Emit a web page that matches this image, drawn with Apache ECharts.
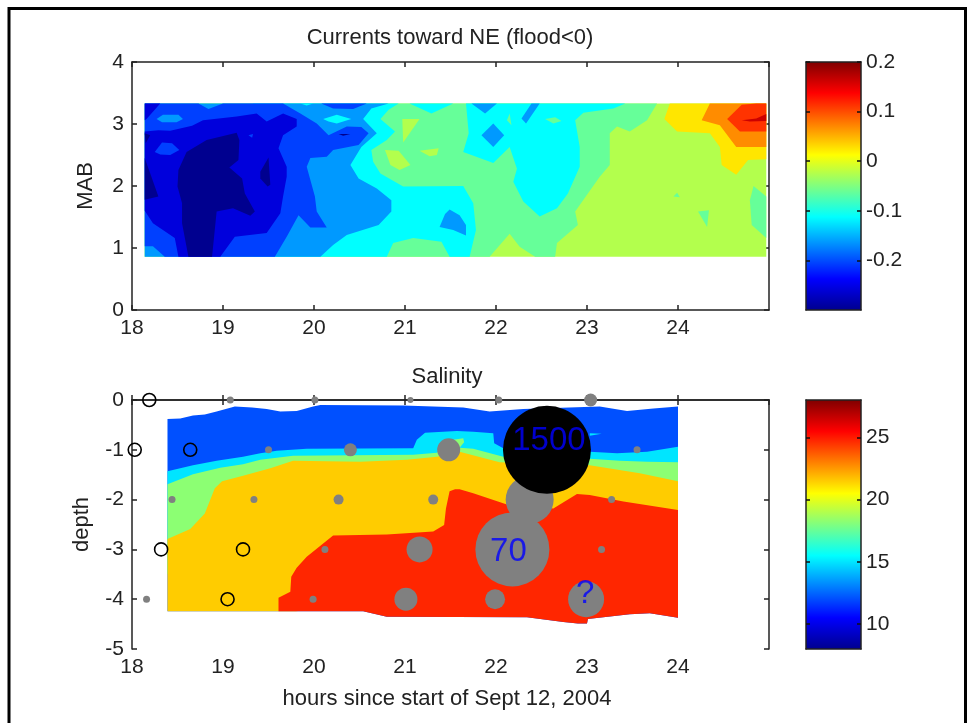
<!DOCTYPE html>
<html>
<head>
<meta charset="utf-8">
<style>html,body{margin:0;padding:0;background:#fff}#c{width:969px;height:723px}</style>
<script src="https://cdn.jsdelivr.net/npm/echarts@6/dist/echarts.min.js"></script>
</head>
<body>
<div id="c"></div>
<script>
// ---- Currents contour bands: [hour, metres above bottom] outlines, painted in order
const curBase = [[18.14,3.33],[24.97,3.33],[24.97,0.86],[18.14,0.86]];
const curGreen = [[18.14,3.33],[23.77,3.33],[23.66,3.06],[23.47,2.88],[23.33,2.96],[23.25,2.85],[23.25,2.34],[23.14,2.15],[22.87,1.59],[22.90,1.37],[22.67,1.08],[22.65,0.86],[22.43,0.86],[22.26,1.02],[22.15,1.23],[21.93,0.86],[18.14,0.86]];
const curLimeIslands = [
  [[20.97,3.08],[21.16,3.08],[20.98,2.70]],
  [[20.78,2.58],[20.93,2.57],[21.06,2.34],[20.94,2.26],[20.84,2.34]],
  [[21.16,2.57],[21.37,2.61],[21.35,2.50],[21.27,2.48]]
];
const curGreenIslands = [
  [[24.83,2.00],[24.97,1.83],[24.97,1.16],[24.81,1.37],[24.79,1.77]],
  [[24.22,1.59],[24.34,1.61],[24.32,1.34]],
  [[23.95,1.83],[23.99,1.89],[24.02,1.82]]
];
const curCyan = [
  [[19.33,3.33],[20.93,3.33],[20.82,3.23],[20.73,3.08],[20.89,2.88],[20.80,2.74],[20.63,2.58],[20.65,2.39],[20.73,2.20],[20.98,1.99],[21.64,2.00],[21.75,1.72],[21.78,1.29],[21.71,0.86],[21.49,0.86],[21.40,1.10],[21.09,1.16],[20.87,1.08],[20.80,0.86],[19.33,0.86]],
  [[21.05,3.33],[21.29,3.17],[21.53,3.33]],
  [[21.67,3.33],[21.70,2.85],[21.64,2.55],[21.97,2.37],[22.15,2.63],[22.23,2.28],[22.19,2.07],[22.30,1.75],[22.48,1.51],[22.67,1.64],[22.79,1.88],[22.92,2.31],[22.92,2.63],[22.87,3.06],[22.96,3.18],[23.29,3.25],[23.42,3.33]]
];
const curGreenInCyan = [
  [[22.15,3.17],[22.17,2.98],[22.12,3.06]],
  [[22.54,3.08],[22.65,3.11],[22.72,3.05],[22.63,3.01]]
];
const curLight = [
  [[18.14,3.33],[20.82,3.33],[20.63,3.25],[20.54,3.08],[20.69,2.85],[20.52,2.63],[20.40,2.34],[20.49,2.12],[20.69,1.96],[20.85,1.77],[20.85,1.59],[20.71,1.37],[20.36,1.21],[20.21,1.05],[20.07,0.86],[18.14,0.86]],
  [[21.73,3.33],[22.01,3.33],[21.88,3.17]],
  [[22.39,3.33],[22.48,3.33],[22.33,3.01],[22.28,3.09]],
  [[21.97,3.01],[22.09,2.82],[21.97,2.63],[21.84,2.82]],
  [[21.38,1.34],[21.44,1.55],[21.49,1.62],[21.60,1.53],[21.67,1.37],[21.67,1.20],[21.53,1.29]]
];
const curCyanSpots = [
  [[19.85,3.33],[19.99,3.33],[19.92,3.30]],
  [[20.10,3.08],[20.25,3.15],[20.41,3.08],[20.25,3.01],[20.16,3.04]]
];
const curBlue = [
  [[18.14,3.33],[18.73,3.33],[18.84,3.24],[19.00,3.33],[19.66,3.33],[19.85,3.17],[20.03,3.01],[20.16,2.82],[20.36,2.96],[20.52,2.95],[20.60,2.85],[20.49,2.66],[20.21,2.58],[20.14,2.47],[19.96,2.45],[19.92,2.31],[20.01,1.83],[20.03,1.59],[20.14,1.33],[19.96,1.33],[19.83,1.53],[19.70,1.18],[19.57,0.86],[18.36,0.86],[18.23,1.03],[18.14,1.03]],
  [[20.08,3.33],[20.58,3.33],[20.43,3.24],[20.21,3.25]]
];
const curLightIsland = [[18.27,3.08],[18.34,3.15],[18.51,3.15],[18.56,3.08],[18.49,3.03],[18.33,3.03]];
const curDark = [
  [[18.14,3.33],[18.31,3.33],[18.16,3.08],[18.14,3.06]],
  [[18.14,2.88],[18.29,2.90],[18.42,2.89],[18.66,2.97],[18.78,3.06],[19.15,3.12],[19.37,3.17],[19.48,3.04],[19.66,3.17],[19.81,3.08],[19.81,2.96],[19.66,2.82],[19.61,2.61],[19.70,2.31],[19.70,2.15],[19.66,1.83],[19.63,1.56],[19.48,1.24],[19.13,1.18],[18.97,0.86],[18.51,0.86],[18.47,1.16],[18.23,1.40],[18.14,1.60]]
];
const curBlueIslands = [
  [[18.25,2.55],[18.33,2.70],[18.44,2.69],[18.52,2.58],[18.42,2.50],[18.31,2.51]],
  [[19.28,2.82],[19.33,2.84],[19.32,2.78]]
];
const curNavy = [
  [[18.51,2.26],[18.60,2.55],[18.82,2.74],[19.15,2.86],[19.18,2.74],[19.17,2.42],[19.07,2.30],[19.21,2.12],[19.24,1.88],[19.35,1.59],[19.30,1.52],[19.11,1.64],[18.93,1.59],[18.88,0.86],[18.62,0.86],[18.55,1.40],[18.55,1.72],[18.50,1.99]],
  [[19.41,2.23],[19.50,2.46],[19.52,2.02],[19.49,1.99],[19.41,2.12]],
  [[18.14,2.45],[18.29,1.83],[18.14,1.78]],
  [[18.14,2.85],[18.20,2.82],[18.15,2.69]],
  [[20.27,2.84],[20.40,2.84],[20.32,2.81]]
];
const curYellow = [[23.91,3.33],[23.85,3.08],[23.99,2.88],[24.35,2.85],[24.46,2.63],[24.48,2.34],[24.64,2.18],[24.77,2.42],[24.97,2.43],[24.97,3.33]];
const curOrange = [[24.35,3.33],[24.26,3.06],[24.46,2.98],[24.64,2.63],[24.97,2.63],[24.97,3.33]];
const curRed = [[24.70,3.31],[24.54,3.08],[24.68,2.88],[24.97,2.88],[24.97,3.33],[24.86,3.33]];
const curDarkRed = [[24.70,3.06],[24.86,3.09],[24.97,3.16],[24.97,3.05],[24.79,3.04]];

// ---- Salinity contour bands: [hour, depth] outlines, painted in order
const salTopEdge = [[18.39,-0.38],[18.53,-0.37],[18.67,-0.31],[18.80,-0.29],[18.93,-0.23],[19.13,-0.13],[19.32,-0.15],[19.48,-0.18],[19.63,-0.23],[19.81,-0.22],[19.99,-0.13],[20.07,-0.10],[20.98,-0.11],[21.64,-0.15],[21.93,-0.23],[22.30,-0.18],[23.14,-0.13],[23.44,-0.22],[23.73,-0.17],[24.00,-0.13]];
const salBottomEdge = [[24.00,-4.37],[23.69,-4.28],[23.47,-4.30],[23.01,-4.40],[23.00,-4.49],[22.90,-4.49],[22.74,-4.46],[22.34,-4.36],[20.80,-4.35],[20.54,-4.24]];
const salCyanTop = [[18.39,-1.43],[18.67,-1.31],[18.93,-1.22],[19.22,-1.14],[19.41,-1.07],[19.59,-1.02],[19.92,-0.98],[21.09,-0.97],[21.13,-0.80],[21.22,-0.66],[21.57,-0.62],[21.75,-0.64],[21.97,-0.67],[21.98,-0.87],[22.08,-0.97],[22.45,-1.04],[23.03,-1.04],[23.33,-1.07],[23.66,-1.04],[24.00,-0.94]];
const salCyanSpur = [[23.03,-0.67],[23.16,-0.68],[23.03,-0.72]];
const salGreenTop = [[18.39,-1.69],[18.67,-1.49],[18.97,-1.36],[19.22,-1.29],[19.41,-1.20],[19.59,-1.16],[19.77,-1.12],[21.09,-1.10],[21.35,-1.06],[21.53,-0.80],[21.64,-0.77],[21.65,-0.85],[21.60,-0.96],[21.75,-0.98],[22.08,-1.14],[23.03,-1.18],[23.36,-1.22],[23.66,-1.24],[24.00,-1.25]];
const salYellowTop = [[18.39,-2.79],[18.64,-2.59],[18.80,-2.28],[18.91,-1.77],[18.99,-1.63],[19.22,-1.52],[19.52,-1.37],[19.77,-1.22],[20.51,-1.24],[21.02,-1.20],[21.35,-1.14],[21.60,-1.04],[22.04,-1.25],[23.03,-1.31],[23.58,-1.47],[24.00,-1.63]];
const salYellowUnder = [[24.00,-3.50],[20.00,-4.20],[19.80,-4.24],[18.39,-4.24]];
const salRedTop = [[19.61,-4.24],[19.61,-3.97],[19.74,-3.85],[19.75,-3.55],[19.81,-3.37],[19.92,-3.15],[20.21,-2.72],[20.80,-2.70],[21.31,-2.64],[21.43,-2.51],[21.45,-2.18],[21.49,-1.83],[21.55,-1.79],[21.60,-1.79],[21.75,-1.87],[22.12,-2.10],[22.63,-2.18],[22.89,-1.89],[23.03,-1.91],[23.40,-2.04],[24.00,-2.21]];

// ---- Bubbles: [hour, depth, size]
const grayBubbles = [
  [19.08,0,7],[20.01,0,7],[21.06,0,6],[22.03,0,7],[23.04,0,13],
  [19.50,-1,7],[20.40,-1,13],[21.48,-1,23],[23.55,-1,7],
  [18.44,-2,7],[19.34,-2,7],[20.27,-2,10],[21.31,-2,10],[22.37,-2,48],[23.27,-2,7],
  [20.12,-3,7],[21.16,-3,26],[22.18,-3,74],[23.16,-3,7],
  [18.16,-4,7],[19.99,-4,7],[21.01,-4,23],[21.99,-4,20],[22.99,-4,36]
];
const blackBubbles = [[22.56,-1,88]];
const openCircles = [[18.19,0,13],[18.03,-1,13],[18.64,-1,13],[18.32,-3,13],[19.22,-3,13],[19.05,-4,13]];
const blobNotes = [["1500",22.56,-1],["70",22.18,-3],["?",22.99,-4]];

// ---- Axes text and colour scales
const hourTicks = ["18","19","20","21","22","23","24"];
const cbarCurrentTicks = [-0.2,-0.1,0,0.1,0.2];
const cbarSalinityTicks = [10,15,20,25];
const jetStops = [[0,"#00008f"],[0.125,"#0000ff"],[0.375,"#00ffff"],[0.625,"#ffff00"],[0.875,"#ff0000"],[1,"#800000"]];

const INK = "#222222", FONT = "Liberation Sans", TICK = 21, TXT = 22;
const C = {navy:"#00008f",dark:"#0000dc",blue:"#0040ff",light:"#0099ff",cyan:"#00ffff",green:"#66ff99",lime:"#b3ff4d",yellow:"#ffe600",orange:"#ff8c00",red:"#ff3300",dred:"#cc0000",
           sBlue:"#0050ff",sCyan:"#00e5ff",sGreen:"#8cff73",sYellow:"#ffcc00",sRed:"#ff2600",gray:"#808080"};

function band(points, fill, g){
  return {type:"custom", xAxisIndex:g*2, yAxisIndex:g*2, coordinateSystem:"cartesian2d", clip:false, silent:true, z:2,
    encode:{x:0,y:1}, data:points,
    renderItem:function(p, api){
      if(p.dataIndex!==0) return null;
      return {type:"polygon", shape:{points:points.map(function(q){return api.coord(q);})}, style:{fill:fill}};
    }};
}
function cbarSeries(g, lo, hi){
  return {type:"custom", xAxisIndex:g*2, yAxisIndex:g*2, coordinateSystem:"cartesian2d", silent:true, z:2,
    encode:{x:0,y:1}, data:[[0,lo],[1,hi]],
    renderItem:function(p, api){
      if(p.dataIndex!==0) return null;
      var a=api.coord([0,hi]), b=api.coord([1,lo]);
      return {type:"rect", shape:{x:a[0],y:a[1],width:b[0]-a[0],height:b[1]-a[1]},
        style:{fill:new echarts.graphic.LinearGradient(0,1,0,0,jetStops.map(function(s){return {offset:s[0],color:s[1]};}))}};
    }};
}
function pts(list, color, opts){
  return Object.assign({type:"scatter", xAxisIndex:2, yAxisIndex:2, clip:false, silent:true, data:list, z:5,
    symbol:"circle", symbolSize:function(v){return v[2];}, itemStyle:{color:color,opacity:1}}, opts||{});
}

const grids = [
  {left:132,top:62,width:637,height:248},
  {left:132,top:400,width:637,height:249},
  {left:806,top:62,width:55,height:248},
  {left:806,top:400,width:55,height:249}
];
const lineS = {color:INK,width:1.5};
const tickS = {show:true,inside:true,length:5,lineStyle:{color:INK,width:1.5}};
const labelS = {color:INK,fontFamily:FONT,fontSize:TICK};
function mainX(g){ return [
  {type:"value",gridIndex:g,min:18,max:25,interval:1,position:"bottom",z:1,axisLine:{show:true,lineStyle:lineS},axisTick:tickS,splitLine:{show:false},
   axisLabel:Object.assign({},labelS,{margin:8,showMaxLabel:false,formatter:function(v){return hourTicks[v-18]||"";}})},
  {type:"value",gridIndex:g,min:18,max:25,interval:1,position:"top",z:1,axisLine:{show:true,onZero:false,lineStyle:lineS},axisTick:tickS,axisLabel:{show:false},splitLine:{show:false}}
];}
function mainY(g,min,max,name,gap){ return [
  {type:"value",gridIndex:g,min:min,max:max,interval:1,position:"left",z:1,axisLine:{show:true,onZero:false,lineStyle:lineS},axisTick:tickS,splitLine:{show:false},
   axisLabel:Object.assign({},labelS,{margin:8}),name:name,nameLocation:"middle",nameGap:gap,nameTextStyle:{color:INK,fontFamily:FONT,fontSize:TXT}},
  {type:"value",gridIndex:g,min:min,max:max,interval:1,position:"right",z:1,axisLine:{show:true,onZero:false,lineStyle:lineS},axisTick:tickS,axisLabel:{show:false},splitLine:{show:false}}
];}
function cbX(g){ return [
  {type:"value",gridIndex:g,min:0,max:1,position:"bottom",z:6,axisLine:{show:true,onZero:false,lineStyle:lineS},axisTick:{show:false},axisLabel:{show:false},splitLine:{show:false}},
  {type:"value",gridIndex:g,min:0,max:1,position:"top",z:6,axisLine:{show:true,onZero:false,lineStyle:lineS},axisTick:{show:false},axisLabel:{show:false},splitLine:{show:false}}
];}
function cbY(g,min,max,ticks){
  const t = {show:true,inside:true,length:4,customValues:ticks,lineStyle:{color:"#111",width:1.5}};
  return [
  {type:"value",gridIndex:g,min:min,max:max,position:"right",z:6,axisLine:{show:true,onZero:false,lineStyle:lineS},axisTick:t,splitLine:{show:false},
   axisLabel:Object.assign({},labelS,{margin:5,customValues:ticks})},
  {type:"value",gridIndex:g,min:min,max:max,position:"left",z:6,axisLine:{show:true,onZero:false,lineStyle:lineS},axisTick:t,axisLabel:{show:false},splitLine:{show:false}}
];}

const series = [
  band(curBase,C.lime,0), band(curGreen,C.green,0)
];
curLimeIslands.forEach(function(p){series.push(band(p,C.lime,0));});
curGreenIslands.forEach(function(p){series.push(band(p,C.green,0));});
curCyan.forEach(function(p){series.push(band(p,C.cyan,0));});
curGreenInCyan.forEach(function(p){series.push(band(p,C.green,0));});
curLight.forEach(function(p){series.push(band(p,C.light,0));});
curCyanSpots.forEach(function(p){series.push(band(p,C.cyan,0));});
curBlue.forEach(function(p){series.push(band(p,C.blue,0));});
series.push(band(curLightIsland,C.light,0));
curDark.forEach(function(p){series.push(band(p,C.dark,0));});
curBlueIslands.forEach(function(p){series.push(band(p,C.blue,0));});
curNavy.forEach(function(p){series.push(band(p,C.navy,0));});
series.push(band(curYellow,C.yellow,0),band(curOrange,C.orange,0),band(curRed,C.red,0),band(curDarkRed,C.dred,0));

const rightDeep = [[24.00,-3.50],[18.39,-3.50]];
series.push(
  band(salTopEdge.concat(salBottomEdge,[[18.39,-4.24]]),C.sBlue,1),
  band(salCyanTop.concat(rightDeep),C.sCyan,1),
  band(salCyanSpur,C.sCyan,1),
  band(salGreenTop.concat(rightDeep),C.sGreen,1),
  band(salYellowTop.concat(salYellowUnder),C.sYellow,1),
  band(salRedTop.concat(salBottomEdge),C.sRed,1),
  pts(grayBubbles,C.gray),
  pts(blackBubbles,"#000"),
  pts(openCircles,"none",{z:6,itemStyle:{color:"rgba(0,0,0,0)",borderColor:"#000",borderWidth:1.6,opacity:1}}),
  {type:"scatter",xAxisIndex:2,yAxisIndex:2,clip:false,silent:true,z:7,symbolSize:1,itemStyle:{color:"rgba(0,0,0,0)"},
   data:blobNotes.map(function(n,i){return {value:[n[1],n[2]],name:n[0],
     label:{show:true,position:"inside",formatter:n[0],color:"#0000ff",fontFamily:FONT,fontSize:33,offset:[[2,-9],[-4,3],[-1,-5]][i]}};})},
  cbarSeries(2,-0.3,0.2),
  cbarSeries(3,8,28)
);

const chart = echarts.init(document.getElementById("c"),null,{renderer:"canvas"});
const titleS = {color:INK,fontFamily:FONT,fontSize:TXT,fontWeight:"normal"};
chart.setOption({
  animation:false, backgroundColor:"#fff",
  title:[
    {text:"Currents toward NE (flood<0)",left:445,top:22,textAlign:"center",textStyle:titleS},
    {text:"Salinity",left:442,top:361,textAlign:"center",textStyle:titleS},
    {text:"hours since start of Sept 12, 2004",left:442,top:683,textAlign:"center",textStyle:titleS}
  ],
  grid:grids,
  xAxis:[].concat(mainX(0),mainX(1),cbX(2),cbX(3)),
  yAxis:[].concat(mainY(0,0,4,"MAB",35),mainY(1,-5,0,"depth",39),cbY(2,-0.3,0.2,cbarCurrentTicks),cbY(3,8,28,cbarSalinityTicks)),
  series:series,
  graphic:[{type:"polyline",silent:true,shape:{points:[[9,723],[9,8.5],[965.5,8.5],[965.5,723]]},style:{stroke:"#000",lineWidth:3,fill:"none"}}]
});
</script>
</body>
</html>
